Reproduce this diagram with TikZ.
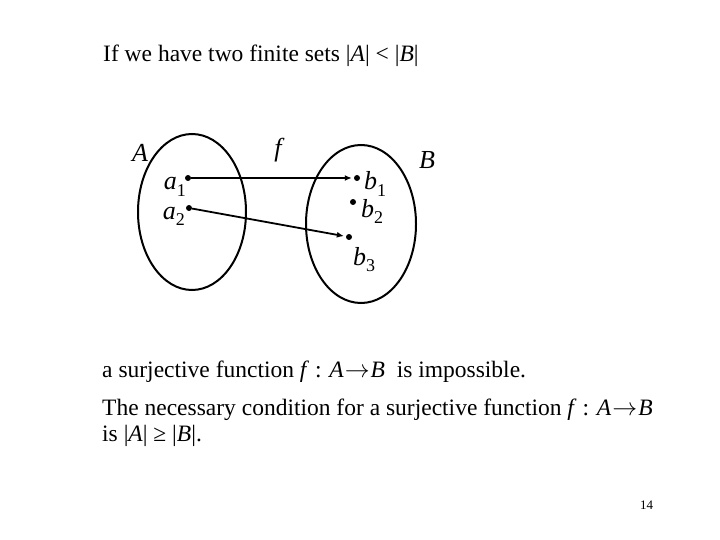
\documentclass[tikz,border=0pt]{standalone}
\usepackage{fontspec}
\setmainfont{Liberation Serif}
\usetikzlibrary{arrows.meta}
\newcommand{\sbs}[1]{\raisebox{-6pt}{\fontsize{18}{18}\selectfont\upshape #1}}
\newcommand{\arr}{\kern1pt$\rightarrow$\kern1pt}
\begin{document}
\begin{tikzpicture}[x=1pt,y=-1pt,
  setline/.style={line width=2pt},
  pt/.style={circle,fill=black,inner sep=0pt,minimum size=6pt},
  lbl/.style={font=\fontsize{26}{28}\selectfont\itshape,inner sep=0pt},
  txt/.style={font=\fontsize{23.5}{26}\selectfont,anchor=base west,inner sep=0pt},
  mapto/.style={line width=1.8pt,-{Latex[length=7pt,width=6pt]},shorten >=2pt}]
\useasboundingbox (0,0) rectangle (720,540);
\node[txt] (t1) at (103,62) {If we have two finite sets |\textit{A}| < |\textit{B}|};
\draw[setline] (192,212) ellipse [x radius=54, y radius=78];
\draw[setline] (361,224) ellipse [x radius=55, y radius=79];
\node[lbl] (A) at (140,153) {A};
\node[lbl] (f) at (278,150) {f};
\node[lbl] (B) at (427,160) {B};
\node[pt] (a1) at (188,178) {};
\node[pt] (a2) at (189,208) {};
\node[pt] (b1) at (357,178) {};
\node[pt] (b2) at (353,202) {};
\node[pt] (b3) at (349,237) {};
\node[lbl,anchor=base east] (la1) at (186,190) {a\sbs{1}};
\node[lbl,anchor=base east] (la2) at (185,219) {a\sbs{2}};
\node[lbl,anchor=base west] (lb1) at (364,190) {b\sbs{1}};
\node[lbl,anchor=base west] (lb2) at (361,218) {b\sbs{2}};
\node[lbl,anchor=base west] (lb3) at (353,265) {b\sbs{3}};
\draw[mapto] (a1) -- (b1);
\draw[mapto] (a2) -- (b3);
\node[txt] (t2) at (102,377) {a surjective function \textit{f} : \textit{A}\arr\textit{B}\ \ is impossible.};
\node[txt] (t3) at (102,415) {The necessary condition for a surjective function \textit{f} : \textit{A}\arr\textit{B}};
\node[txt] (t4) at (102,441) {is |\textit{A}| ≥ |\textit{B}|.};
\node[txt,font=\fontsize{13}{14}\selectfont] (pg) at (640,509) {14};
\end{tikzpicture}
\end{document}
